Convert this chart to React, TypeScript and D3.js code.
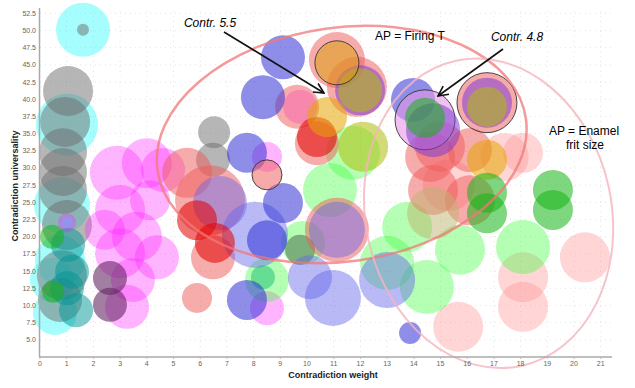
import React from "react";
import * as d3 from "d3";

// [weight, universality, size]
type Bubble = [number, number, number];

const xTicks = d3.range(0, 22);
const yTicks = d3.range(5, 53, 2.5);

const cyanB: Bubble[] = [
  [1.61, 50.1, 27], [1.01, 36.3, 31], [0.82, 24.6, 28], [0.75, 16.6, 25],
  [0.56, 8.9, 22], [0.45, 13.7, 22],
];
const grayB: Bubble[] = [
  [1.61, 50.1, 6], [1.05, 41.2, 25], [0.94, 36.7, 25], [0.86, 32.3, 24],
  [0.86, 29.4, 24], [0.86, 26.8, 24], [1.01, 21.7, 25], [0.82, 14.4, 25],
  [0.75, 10.8, 22], [6.52, 35.2, 16], [6.48, 31.2, 17],
];
const tealB: Bubble[] = [
  [1.05, 18.8, 17], [1.2, 14.9, 17], [1.01, 12.5, 17], [1.35, 9.3, 17], [8.35, 14.1, 12],
];
const magentaB: Bubble[] = [
  [2.88, 29.3, 27], [4.0, 30.7, 25], [4.61, 29.7, 22], [3.0, 23.9, 25],
  [3.63, 20.0, 25], [4.38, 17.0, 22], [3.0, 17.6, 25], [3.48, 13.7, 22],
  [3.26, 9.8, 22], [2.43, 21.0, 20], [4.12, 25.3, 20], [1.01, 22.1, 9],
  [8.5, 31.6, 15], [9.74, 38.9, 17], [8.5, 9.6, 17],
];
const plumB: Bubble[] = [
  [2.62, 14.0, 17], [2.62, 10.1, 17], [9.74, 18.1, 15],
];
const pinkB: Bubble[] = [
  [15.66, 6.9, 25], [18.09, 14.1, 25], [18.09, 9.8, 25], [20.41, 17.0, 25],
  [18.09, 32.2, 20], [17.4, 31.6, 24], [15.3, 27.5, 26],
];
const lightGreenB: Bubble[] = [
  [10.86, 26.8, 27], [8.5, 13.7, 22], [9.85, 19.1, 22], [13.0, 16.2, 27],
  [13.75, 21.4, 25], [15.73, 18.1, 25], [14.49, 12.7, 27], [18.09, 18.5, 27],
  [11.72, 32.2, 27],
];
const salmonB: Bubble[] = [
  [5.51, 29.3, 25], [6.37, 25.3, 35], [6.48, 17.0, 22], [5.88, 11.1, 15],
  [11.12, 45.7, 28], [11.87, 41.8, 30], [9.63, 38.9, 22], [10.37, 33.6, 22],
  [11.12, 21.0, 32], [14.61, 31.6, 25], [14.98, 33.1, 25], [14.72, 26.8, 25],
  [16.1, 25.3, 25], [16.1, 32.6, 22],
];
const lavenderB: Bubble[] = [
  [6.74, 24.9, 27], [8.05, 20.3, 33], [11.12, 21.0, 28], [10.97, 11.1, 28],
  [13.0, 13.7, 28], [10.11, 14.1, 22],
];
const blueB: Bubble[] = [
  [9.1, 46.1, 22], [8.35, 40.3, 22], [7.75, 32.2, 20], [9.1, 24.9, 20],
  [8.5, 19.5, 20], [7.75, 10.8, 20], [13.97, 39.9, 22], [13.86, 6.0, 11],
];
const redB: Bubble[] = [
  [5.88, 22.4, 20], [6.55, 19.1, 20], [10.37, 34.5, 20],
];
const orchidRing: Bubble[] = [[14.42, 37.0, 30]];
const salmonRing: Bubble[] = [[16.74, 39.5, 30], [8.5, 29.0, 15]];
const purpleB: Bubble[] = [
  [14.72, 35.5, 27], [16.74, 39.5, 25], [11.99, 41.3, 25],
];
const oliveB: Bubble[] = [
  [11.99, 41.3, 22], [12.1, 33.1, 25], [16.74, 38.9, 20],
];
const tanB: Bubble[] = [[14.72, 23.4, 26]];
const goldB: Bubble[] = [[10.75, 37.4, 20], [16.74, 31.2, 20]];
const goldRing: Bubble[] = [[11.12, 45.3, 22]];
const greenB: Bubble[] = [
  [14.42, 37.3, 20], [16.74, 26.4, 20], [16.74, 23.4, 20], [19.21, 26.8, 20],
  [19.21, 23.9, 20], [0.45, 20.0, 12], [0.49, 12.0, 11],
];
const lilacB: Bubble[] = [[1.01, 22.1, 6]];

const series = [
  { data: cyanB, fill: "rgba(40,250,250,0.42)" },
  { data: grayB, fill: "rgba(110,110,110,0.5)" },
  { data: tealB, fill: "rgba(0,150,150,0.5)" },
  { data: magentaB, fill: "rgba(255,40,255,0.35)" },
  { data: plumB, fill: "rgba(100,40,100,0.6)" },
  { data: pinkB, fill: "rgba(255,150,150,0.4)" },
  { data: lightGreenB, fill: "rgba(60,255,60,0.38)" },
  { data: salmonB, fill: "rgba(240,90,90,0.5)" },
  { data: lavenderB, fill: "rgba(100,100,235,0.45)" },
  { data: blueB, fill: "rgba(50,50,215,0.55)" },
  { data: redB, fill: "rgba(225,0,0,0.55)" },
  { data: orchidRing, fill: "rgba(230,150,230,0.6)", stroke: "#333" },
  { data: salmonRing, fill: "rgba(240,100,100,0.55)", stroke: "#333" },
  { data: purpleB, fill: "rgba(130,60,210,0.55)" },
  { data: oliveB, fill: "rgba(175,190,10,0.55)" },
  { data: tanB, fill: "rgba(190,180,110,0.5)" },
  { data: goldB, fill: "rgba(230,165,0,0.55)" },
  { data: goldRing, fill: "rgba(220,160,20,0.55)", stroke: "#333" },
  { data: greenB, fill: "rgba(20,180,20,0.55)" },
  { data: lilacB, fill: "rgba(140,150,240,0.8)" },
];

const W = 635;
const H = 388;

export default function App() {
  const x = d3.scaleLinear().domain([0, 21.4]).range([40, 611.4]);
  const y = d3.scaleLinear().domain([2.5, 53.2]).range([357, 8.5]);
  const r = d3.scaleLinear().domain([0, 30]).range([0, 30]);
  const font = "Arial, 'Liberation Sans', sans-serif";

  return (
    <svg width={W} height={H} style={{ position: "absolute", left: 0, top: 0, background: "#fff" }}>
      <defs>
        <marker id="arr" viewBox="0 0 12 12" refX="11" refY="6" markerWidth="12" markerHeight="12"
          markerUnits="userSpaceOnUse" orient="auto">
          <path d="M1,1 L11,6 L1,11" fill="none" stroke="#111" strokeWidth="1.6" />
        </marker>
      </defs>
      {/* faint grid */}
      <g stroke="#e4e4e4" strokeDasharray="1,4">
        {xTicks.map(t => <line key={t} x1={x(t)} x2={x(t)} y1={y(2.5)} y2={8} />)}
        {yTicks.map(t => <line key={t} x1={40} x2={611} y1={y(t)} y2={y(t)} />)}
      </g>

      {series.map((s, i) => (
        <g key={i}>
          {s.data.map((d, j) => (
            <circle key={j} cx={x(d[0])} cy={y(d[1])} r={r(d[2])} fill={s.fill}
              stroke={s.stroke || "none"} strokeWidth={s.stroke ? 0.9 : 0} />
          ))}
        </g>
      ))}

      {/* annotation ellipses */}
      <ellipse cx={x(11.3)} cy={y(33.4)} rx={186} ry={117} fill="none"
        stroke="rgba(240,120,120,0.75)" strokeWidth={2.5}
        transform={`rotate(-8 ${x(11.3)} ${y(33.4)})`} />
      <ellipse cx={x(16.8)} cy={y(23.4)} rx={123} ry={156} fill="none"
        stroke="rgba(245,180,190,0.8)" strokeWidth={2}
        transform={`rotate(-12 ${x(16.8)} ${y(23.4)})`} />

      {/* axes */}
      <line x1={39.5} x2={39.5} y1={8} y2={357} stroke="#aaa" strokeWidth={1.5} />
      <line x1={39} x2={612} y1={357} y2={357} stroke="#aaa" strokeWidth={1.5} />
      <g fontFamily={font} fontSize={7} fill="#666">
        {xTicks.map(t => (
          <g key={t}>
            <line x1={x(t)} x2={x(t)} y1={357} y2={359} stroke="#bbb" />
            <text x={x(t)} y={366} textAnchor="middle">{t}</text>
          </g>
        ))}
        {yTicks.map(t => (
          <text key={t} x={36} y={y(t) + 2.5} textAnchor="end">{t.toFixed(1)}</text>
        ))}
      </g>
      <text x={333} y={378} textAnchor="middle" fontFamily={font} fontSize={9} fontWeight="bold" fill="#222">
        Contradiction weight
      </text>
      <text transform="translate(18,186) rotate(-90)" textAnchor="middle" fontFamily={font}
        fontSize={9} fontWeight="bold" fill="#222">
        Contradiction universality
      </text>

      {/* annotations */}
      <g fontFamily={font} fontSize={12} fill="#000">
        <text x={210} y={27} textAnchor="middle" fontStyle="italic">Contr. 5.5</text>
        <text x={410} y={40} textAnchor="middle">AP = Firing T</text>
        <text x={517} y={41} textAnchor="middle" fontStyle="italic">Contr. 4.8</text>
        <text x={584} y={135} textAnchor="middle">AP = Enamel</text>
        <text x={585} y={149} textAnchor="middle">frit size</text>
      </g>
      <line x1={224} y1={32} x2={324} y2={93} stroke="#111" strokeWidth={1.6} markerEnd="url(#arr)" />
      <line x1={503} y1={49} x2={438} y2={96} stroke="#111" strokeWidth={1.6} markerEnd="url(#arr)" />
    </svg>
  );
}
